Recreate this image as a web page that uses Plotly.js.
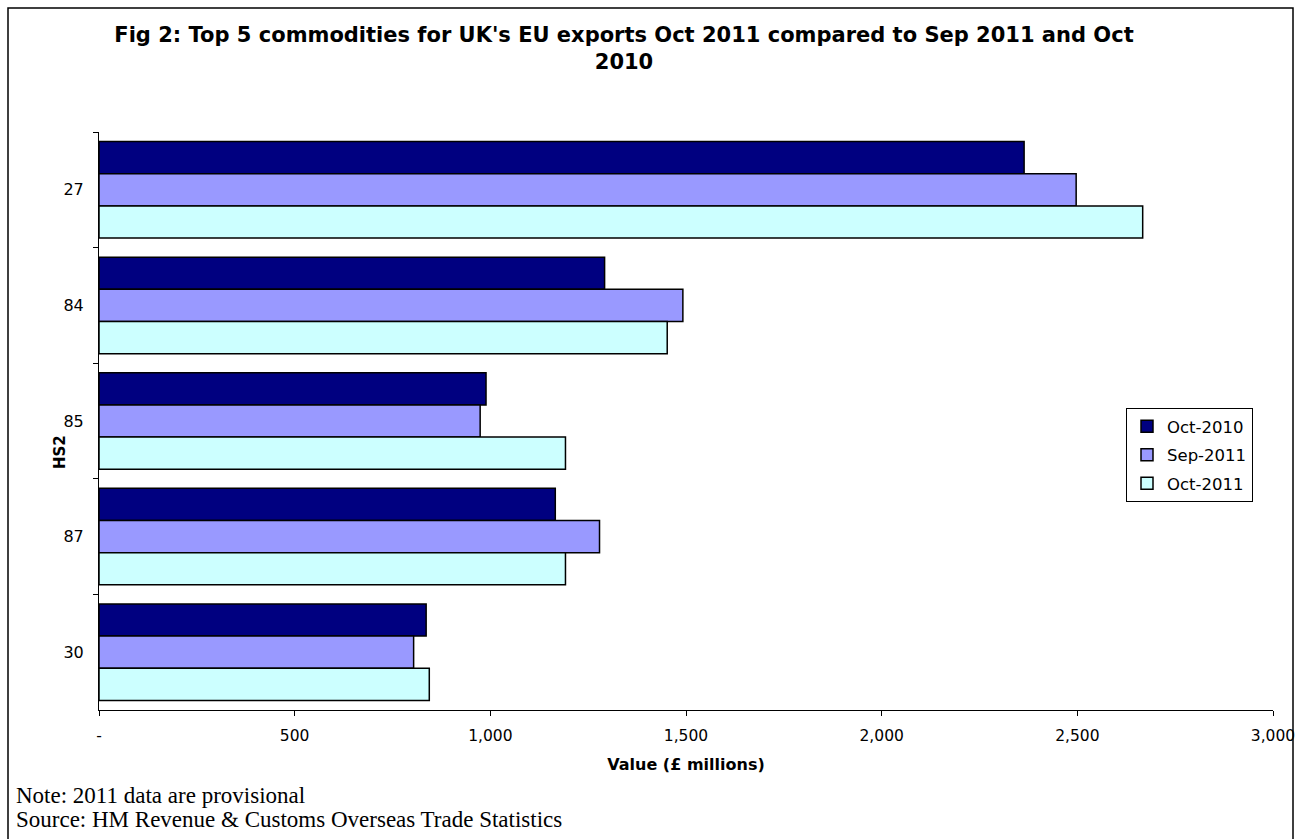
<!DOCTYPE html>
<html>
<head>
<meta charset="utf-8">
<script src="https://cdn.plot.ly/plotly-3.0.1.min.js"></script>
<style>html,body{margin:0;padding:0;background:#fff;}#chart{width:1301px;height:839px;}</style>
</head>
<body>
<div id="chart"></div>
<script>
// ---- data ----
const categories = ['27', '84', '85', '87', '30'];
const seriesNames = ['Oct-2010', 'Sep-2011', 'Oct-2011'];
const oct2010 = [2364, 1292, 989, 1166, 836];
const sep2011 = [2497, 1492, 974, 1279, 804];
const oct2011 = [2667, 1452, 1192, 1192, 844];
const xTickVals = [0, 500, 1000, 1500, 2000, 2500, 3000];
const xTickText = ['-', '500', '1,000', '1,500', '2,000', '2,500', '3,000'];
const titleText = "Fig 2: Top 5 commodities for UK's EU exports Oct 2011 compared to Sep 2011 and Oct<br>2010";
const xTitle = 'Value (£ millions)';
const yTitle = 'HS2';
const noteText = 'Note: 2011 data are provisional';
const sourceText = 'Source: HM Revenue &amp; Customs Overseas Trade Statistics';

const colors = ['#000080', '#9999FF', '#CCFFFF'];
const values = [oct2010, sep2011, oct2011];

const traces = values.map((v, i) => ({
  type: 'bar',
  orientation: 'h',
  name: seriesNames[i],
  y: categories,
  x: v,
  legendgroup: 'g' + i,
  marker: {color: colors[i], line: {color: '#000000', width: 1.5}},
  hoverinfo: 'x+y+name'
}));

// plot area geometry (px)
const W = 1301, H = 839;
const mL = 99, mR = 28, mT = 132, mB = 129;
const pW = W - mL - mR, pH = H - mT - mB;
const px = x => (x - mL) / pW;
const py = y => (H - mB - y) / pH;

const layout = {
  width: W, height: H,
  margin: {l: mL, r: mR, t: mT, b: mB, pad: 0},
  paper_bgcolor: '#ffffff',
  plot_bgcolor: '#ffffff',
  barmode: 'group',
  bargap: 0.165,
  bargroupgap: 0,
  title: {
    text: titleText,
    font: {family: 'DejaVu Sans', size: 21, color: '#000', weight: 'bold'},
    xref: 'container', yref: 'container',
    x: 624 / W, xanchor: 'center',
    y: 1 - 42 / H, yanchor: 'top'
  },
  xaxis: {
    range: [0, 3000],
    tickvals: xTickVals,
    ticktext: xTickText,
    showgrid: false,
    zeroline: false,
    showline: true,
    linecolor: '#000',
    linewidth: 1,
    ticks: 'outside',
    ticklen: 5,
    tickcolor: '#000',
    tickfont: {family: 'DejaVu Sans', size: 15.5, color: '#000'},
    ticklabelstandoff: 6,
    title: {
      text: xTitle,
      font: {family: 'DejaVu Sans', size: 16, color: '#000', weight: 'bold'},
      standoff: 15
    },
    fixedrange: true
  },
  yaxis: {
    type: 'category',
    categoryorder: 'array',
    categoryarray: categories,
    autorange: 'reversed',
    showgrid: false,
    zeroline: false,
    showline: true,
    linecolor: '#000',
    linewidth: 1,
    ticks: 'outside',
    tickson: 'boundaries',
    ticklen: 5,
    tickcolor: '#000',
    tickfont: {family: 'DejaVu Sans', size: 16, color: '#000'},
    ticklabelstandoff: 11,
    fixedrange: true
  },
  legend: {
    x: px(1126), xanchor: 'left',
    y: py(408), yanchor: 'top',
    bgcolor: '#ffffff',
    bordercolor: '#000',
    borderwidth: 1,
    font: {family: 'DejaVu Sans', size: 16.5, color: '#000'},
    traceorder: 'grouped',
    tracegroupgap: 4
  },
  annotations: [
    {text: yTitle, xref: 'paper', yref: 'paper', x: px(60), y: py(452),
     xanchor: 'center', yanchor: 'middle', textangle: -90, showarrow: false,
     font: {family: 'DejaVu Sans', size: 15, color: '#000', weight: 'bold'}},
    {text: noteText, xref: 'paper', yref: 'paper', x: px(14), y: py(795),
     xanchor: 'left', yanchor: 'middle', showarrow: false,
     font: {family: 'Liberation Serif', size: 23, color: '#000'}},
    {text: sourceText, xref: 'paper', yref: 'paper', x: px(14), y: py(819),
     xanchor: 'left', yanchor: 'middle', showarrow: false,
     font: {family: 'Liberation Serif', size: 23, color: '#000'}}
  ],
  shapes: [
    {type: 'rect', xref: 'paper', yref: 'paper',
     x0: px(8), x1: px(1293), y0: py(860), y1: py(8),
     line: {color: '#000', width: 1.5}, fillcolor: 'rgba(0,0,0,0)', layer: 'below'}
  ],
  showlegend: true
};

Plotly.newPlot('chart', traces, layout, {displayModeBar: false, staticPlot: false});
</script>
</body>
</html>
